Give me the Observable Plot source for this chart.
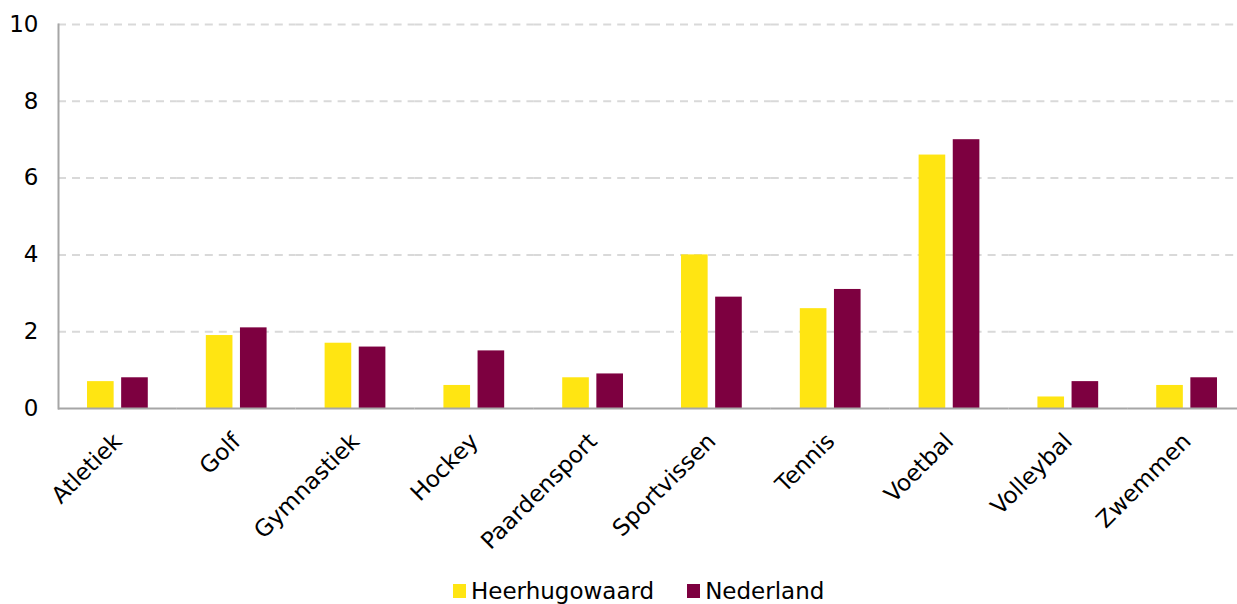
<!DOCTYPE html>
<html>
<head>
<meta charset="utf-8">
<script src="https://cdn.jsdelivr.net/npm/d3@7"></script>
<script src="https://cdn.jsdelivr.net/npm/@observablehq/plot@0.6"></script>
<style>
  html, body { margin: 0; padding: 0; background: #fff; overflow: hidden; }
  #chart { width: 1237px; overflow: hidden; }
  .legend { position: absolute; left: 453px; top: 578px; height: 26px; display: flex; align-items: center; font-family: "DejaVu Sans", sans-serif; font-size: 23px; color: #000; white-space: nowrap; }
  .legend span.item { display: flex; align-items: center; margin-right: 33px; }
  .legend span.sw { display: inline-block; width: 13px; height: 14px; margin-right: 5px; }
</style>
</head>
<body>
<div id="chart"></div>
<script>
const categories = ["Atletiek", "Golf", "Gymnastiek", "Hockey", "Paardensport", "Sportvissen", "Tennis", "Voetbal", "Volleybal", "Zwemmen"];
const heerhugowaard = [0.7, 1.9, 1.7, 0.6, 0.8, 4.0, 2.6, 6.6, 0.3, 0.6];
const nederland = [0.8, 2.1, 1.6, 1.5, 0.9, 2.9, 3.1, 7.0, 0.7, 0.8];
const seriesNames = ["Heerhugowaard", "Nederland"];
const seriesColors = ["#FFE512", "#7D0040"];
const yTicks = [0, 2, 4, 6, 8, 10];

const data = categories.flatMap((c, i) => [
  {cat: c, series: seriesNames[0], value: heerhugowaard[i]},
  {cat: c, series: seriesNames[1], value: nederland[i]}
]);

const chart = Plot.plot({
  width: 1237,
  height: 565,
  marginTop: 24,
  marginBottom: 157,
  marginLeft: 58,
  marginRight: -9,
  style: {fontFamily: "DejaVu Sans, sans-serif", fontSize: "23px", color: "#000", background: "#fff", overflow: "hidden"},
  fx: {domain: categories, padding: 0, round: false, label: null, tickRotate: -45, tickSize: 0, tickPadding: 29},
  x: {domain: seriesNames, paddingInner: 0.22, paddingOuter: 0.85, round: false, axis: null},
  y: {domain: [0, 10], ticks: yTicks, label: null, tickSize: 0, tickPadding: 20},
  color: {domain: seriesNames, range: seriesColors},
  marks: [
    Plot.ruleY(yTicks.filter(d => d > 0), {stroke: "#d9d9d9", strokeWidth: 2, strokeDasharray: "8,6"}),
    Plot.barY(data, {fx: "cat", x: "series", y: "value", fill: "series"}),
    Plot.ruleY([0], {stroke: "#a6a6a6", strokeWidth: 2}),
    Plot.frame({anchor: "left", fx: [categories[0]], stroke: "#a6a6a6", strokeWidth: 2})
  ]
});
document.getElementById("chart").appendChild(chart);

const legend = document.createElement("div");
legend.className = "legend";
seriesNames.forEach((n, i) => {
  const item = document.createElement("span");
  item.className = "item";
  const sw = document.createElement("span");
  sw.className = "sw";
  sw.style.background = seriesColors[i];
  item.appendChild(sw);
  item.appendChild(document.createTextNode(n));
  legend.appendChild(item);
});
document.body.appendChild(legend);
</script>
</body>
</html>
